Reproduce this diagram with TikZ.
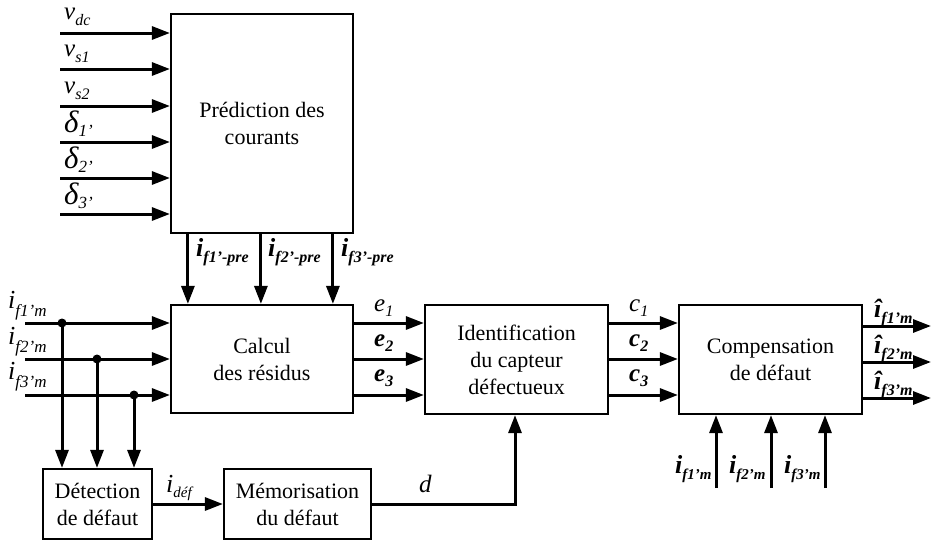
\documentclass[tikz,border=0pt]{standalone}
\usepackage{fontspec}
\setmainfont{Liberation Serif}
\usetikzlibrary{arrows.meta}
% \LB{main size}{sub size}{lowering}{font}{main}{sub}
\newcommand{\LB}[6]{{#4\fontsize{#1}{#1}\selectfont #5\raisebox{-#3pt}{\fontsize{#2}{#2}\selectfont #6}}}
\begin{document}
\begin{tikzpicture}[x=1pt,y=-1pt,
  blk/.style={draw,line width=2.2pt,inner sep=0pt,align=center,font=\fontsize{22}{27}\selectfont},
  arr/.style={line width=3pt,-{Triangle[length=18pt,width=13pt]}},
  lbl/.style={anchor=base west,inner sep=0pt},
  dot/.style={circle,fill=black,inner sep=0pt,minimum size=9pt}]
\useasboundingbox (0,0) rectangle (931,541);
% blocks
\node[blk,minimum width=182pt,minimum height=219pt] (pred) at (262,123.5) {Prédiction des\\courants};
\node[blk,minimum width=182pt,minimum height=108pt] (calc) at (262,359) {Calcul\\des résidus};
\node[blk,minimum width=183pt,minimum height=109pt] (ident) at (516.5,359.5) {Identification\\du capteur\\défectueux};
\node[blk,minimum width=183pt,minimum height=109pt] (comp) at (770.5,359.5) {Compensation\\de défaut};
\node[blk,minimum width=109pt,minimum height=70pt] (det) at (97.5,504) {Détection\\de défaut};
\node[blk,minimum width=147pt,minimum height=70pt] (mem) at (297.5,504) {Mémorisation\\du défaut};
% inputs of prediction
\foreach \y [count=\k] in {33,69,106,142,178,214} {
  \coordinate (pin\k) at (60,\y);
  \draw[arr] (pin\k) -- (pin\k -| pred.west);
}
\node[lbl] (lvdc) at (64,19) {\LB{25}{16}{6}{\itshape}{v}{dc}};
\node[lbl] (lvs1) at (64,56) {\LB{25}{16}{6}{\itshape}{v}{s1}};
\node[lbl] (lvs2) at (64,93) {\LB{25}{16}{6}{\itshape}{v}{s2}};
\node[lbl] (ld1) at (64,132) {\LB{31}{17}{4}{\itshape}{δ}{1'}};
\node[lbl] (ld2) at (64,168) {\LB{31}{17}{4}{\itshape}{δ}{2'}};
\node[lbl] (ld3) at (64,204) {\LB{31}{17}{4}{\itshape}{δ}{3'}};
% prediction -> calcul
\foreach \dx [count=\k] in {18,91,163} {
  \draw[arr] ([xshift=\dx pt]pred.south west) -- ([xshift=\dx pt]calc.north west);
}
\node[lbl] (lp1) at (196,256) {\LB{26}{16}{6}{\bfseries\itshape}{i}{f1'-pre}};
\node[lbl] (lp2) at (268,256) {\LB{26}{16}{6}{\bfseries\itshape}{i}{f2'-pre}};
\node[lbl] (lp3) at (341,256) {\LB{26}{16}{6}{\bfseries\itshape}{i}{f3'-pre}};
% measured currents into calcul
\coordinate (m1) at (25,323);
\coordinate (m2) at (25,359);
\coordinate (m3) at (25,395);
\draw[arr] (m1) -- (m1 -| calc.west);
\draw[arr] (m2) -- (m2 -| calc.west);
\draw[arr] (m3) -- (m3 -| calc.west);
\node[dot] (d1) at (62,323) {};
\node[dot] (d2) at (97,359) {};
\node[dot] (d3) at (134,395) {};
\draw[arr] (d1.center) -- (d1 |- det.north);
\draw[arr] (d2.center) -- (d2 |- det.north);
\draw[arr] (d3.center) -- (d3 |- det.north);
\node[lbl] (lm1) at (8,308) {\LB{26}{17}{8}{\itshape}{i}{f1'm}};
\node[lbl] (lm2) at (8,344) {\LB{26}{17}{8}{\itshape}{i}{f2'm}};
\node[lbl] (lm3) at (8,379) {\LB{26}{17}{8}{\itshape}{i}{f3'm}};
% calcul -> ident, ident -> comp
\foreach \y [count=\k] in {323,359,395} {
  \coordinate (e\k) at (353,\y);
  \draw[arr] (e\k) -- (e\k -| ident.west);
  \coordinate (c\k) at (608,\y);
  \draw[arr] (c\k) -- (c\k -| comp.west);
}
\node[lbl] (le1) at (374,311) {\LB{25}{16}{5}{\itshape}{e}{1}};
\node[lbl] (le2) at (374,346) {\LB{25}{16}{5}{\bfseries\itshape}{e}{2}};
\node[lbl] (le3) at (374,381) {\LB{25}{16}{5}{\bfseries\itshape}{e}{3}};
\node[lbl] (lc1) at (629,311) {\LB{25}{16}{5}{\itshape}{c}{1}};
\node[lbl] (lc2) at (629,346) {\LB{25}{16}{5}{\bfseries\itshape}{c}{2}};
\node[lbl] (lc3) at (629,381) {\LB{25}{16}{5}{\bfseries\itshape}{c}{3}};
% outputs
\foreach \y [count=\k] in {326,362,398} {
  \coordinate (o\k) at (931,\y);
  \draw[arr] (o\k -| comp.east) -- (o\k);
}
\node[lbl] (lo1) at (874,317) {\LB{26}{16}{6}{\bfseries\itshape}{î}{f1'm}};
\node[lbl] (lo2) at (874,353) {\LB{26}{16}{6}{\bfseries\itshape}{î}{f2'm}};
\node[lbl] (lo3) at (874,389) {\LB{26}{16}{6}{\bfseries\itshape}{î}{f3'm}};
% bottom inputs of compensation
\foreach \x [count=\k] in {716,771,825} {
  \coordinate (b\k) at (\x,488);
  \draw[arr] (b\k) -- (b\k |- comp.south);
}
\node[lbl] (lb1) at (675,473) {\LB{26}{15}{6}{\bfseries\itshape}{i}{f1'm}};
\node[lbl] (lb2) at (729,473) {\LB{26}{15}{6}{\bfseries\itshape}{i}{f2'm}};
\node[lbl] (lb3) at (784,473) {\LB{26}{15}{6}{\bfseries\itshape}{i}{f3'm}};
% detection -> memorisation -> ident
\draw[arr] (det.east) -- (mem.west);
\node[lbl] (ldef) at (166,492) {\LB{26}{15}{5}{\itshape}{i}{déf}};
\coordinate (dk) at (515,504);
\draw[arr] (mem.east) -- (dk) -- (dk |- ident.south);
\node[lbl] (ld) at (419,492) {{\fontsize{25}{26}\selectfont\itshape d}};
\end{tikzpicture}
\end{document}
